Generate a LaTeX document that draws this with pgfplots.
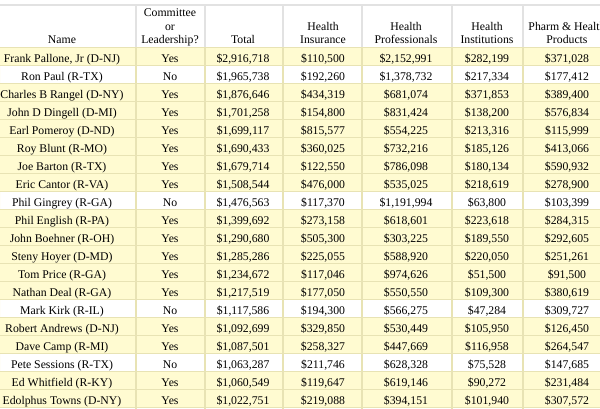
\documentclass[border=0pt]{standalone}
\usepackage{pgfplots}
\usepackage{pgfplotstable}
\pgfplotsset{compat=1.18}
\usepackage{fontspec}
\setmainfont{Liberation Serif}
\definecolor{rowyellow}{HTML}{FFFBD1}
\definecolor{septan}{HTML}{E8E3B4}
\definecolor{hdrgray}{HTML}{E2E2E2}
\pgfplotstableread{
r name comm total ins prof inst pharm yes
1 {Frank Pallone, Jr (D-NJ)} Yes 2916718 110500 2152991 282199 371028 1
2 {Ron Paul (R-TX)} No 1965738 192260 1378732 217334 177412 0
3 {Charles B Rangel (D-NY)} Yes 1876646 434319 681074 371853 389400 1
4 {John D Dingell (D-MI)} Yes 1701258 154800 831424 138200 576834 1
5 {Earl Pomeroy (D-ND)} Yes 1699117 815577 554225 213316 115999 1
6 {Roy Blunt (R-MO)} Yes 1690433 360025 732216 185126 413066 1
7 {Joe Barton (R-TX)} Yes 1679714 122550 786098 180134 590932 1
8 {Eric Cantor (R-VA)} Yes 1508544 476000 535025 218619 278900 1
9 {Phil Gingrey (R-GA)} No 1476563 117370 1191994 63800 103399 0
10 {Phil English (R-PA)} Yes 1399692 273158 618601 223618 284315 1
11 {John Boehner (R-OH)} Yes 1290680 505300 303225 189550 292605 1
12 {Steny Hoyer (D-MD)} Yes 1285286 225055 588920 220050 251261 1
13 {Tom Price (R-GA)} Yes 1234672 117046 974626 51500 91500 1
14 {Nathan Deal (R-GA)} Yes 1217519 177050 550550 109300 380619 1
15 {Mark Kirk (R-IL)} No 1117586 194300 566275 47284 309727 0
16 {Robert Andrews (D-NJ)} Yes 1092699 329850 530449 105950 126450 1
17 {Dave Camp (R-MI)} Yes 1087501 258327 447669 116958 264547 1
18 {Pete Sessions (R-TX)} No 1063287 211746 628328 75528 147685 0
19 {Ed Whitfield (R-KY)} Yes 1060549 119647 619146 90272 231484 1
20 {Edolphus Towns (D-NY)} Yes 1022751 219088 394151 101940 307572 1
}\datatable
\pgfplotsset{
  txt/.style={draw=none, nodes near coords, point meta=explicit symbolic,
    every node near coord/.style={anchor=base, inner sep=0pt, yshift=-6bp, text=black}},
  num/.style={txt, nodes near coords={\$\pgfmathprintnumber[fixed, precision=0, 1000 sep={,}, assume math mode=true]{\pgfplotspointmeta}}},
}
\begin{document}
\begin{tikzpicture}[font=\fontsize{11.8}{13.5}\selectfont]
\path[use as bounding box] (0,0) rectangle (600bp,409bp);
\clip (0,0) rectangle (600bp,409bp);
\begin{axis}[at={(0,0)}, anchor=south west, scale only axis,
  width=600bp, height=409bp, hide axis, clip=false,
  xmin=0, xmax=600, ymin=-2.1111, ymax=20.6111, y dir=reverse,
  unbounded coords=jump]
% row backgrounds
\addplot[xbar, bar width=1, bar shift=0, fill=rowyellow, draw=none]
  table[x expr={600*\thisrow{yes}}, y=r] \datatable;
% row separators
\addplot[xcomb, draw=septan, line width=1bp] coordinates {
 (600,0.5) (600,1.5) (600,2.5) (600,3.5) (600,4.5) (600,5.5) (600,6.5)
 (600,7.5) (600,8.5) (600,9.5) (600,10.5) (600,11.5) (600,12.5) (600,13.5)
 (600,14.5) (600,15.5) (600,16.5) (600,17.5) (600,18.5) (600,19.5) (600,20.5)};
\addplot[xcomb, draw=hdrgray, line width=1.6bp] coordinates {(600,-1.8333)};
% vertical separators
\addplot[draw=hdrgray, line width=1.2bp] coordinates {
 (136,-1.8333) (136,0.5) (136,nan) (205,-1.8333) (205,0.5) (205,nan)
 (283,-1.8333) (283,0.5) (283,nan) (362,-1.8333) (362,0.5) (362,nan)
 (452,-1.8333) (452,0.5) (452,nan) (523,-1.8333) (523,0.5)};
\addplot[draw=septan, line width=1.2bp] coordinates {
 (136,0.5) (136,20.7) (136,nan) (205,0.5) (205,20.7) (205,nan)
 (283,0.5) (283,20.7) (283,nan) (362,0.5) (362,20.7) (362,nan)
 (452,0.5) (452,20.7) (452,nan) (523,0.5) (523,20.7)};
% header
\addplot[draw=none, nodes near coords, point meta=explicit symbolic,
  every node near coord/.style={anchor=south, inner sep=0pt, yshift=-1bp, align=center, text=black}]
  coordinates {
  (62,0.5) [{Name\strut}]
  (170,0.5) [{Committee\strut\\or\strut\\Leadership?\strut}]
  (243,0.5) [{Total\strut}]
  (323,0.5) [{Health\strut\\Insurance\strut}]
  (406,0.5) [{Health\strut\\Professionals\strut}]
  (487,0.5) [{Health\strut\\Institutions\strut}]
  (567,0.5) [{Pharm \& Health\strut\\Products\strut}]};
% body
\addplot[txt] table[x expr=62, y=r, meta=name] \datatable;
\addplot[txt] table[x expr=170, y=r, meta=comm] \datatable;
\addplot[num] table[x expr=243, y=r, meta=total] \datatable;
\addplot[num] table[x expr=323, y=r, meta=ins] \datatable;
\addplot[num] table[x expr=406, y=r, meta=prof] \datatable;
\addplot[num] table[x expr=487, y=r, meta=inst] \datatable;
\addplot[num] table[x expr=567, y=r, meta=pharm] \datatable;
\end{axis}
\end{tikzpicture}
\end{document}
